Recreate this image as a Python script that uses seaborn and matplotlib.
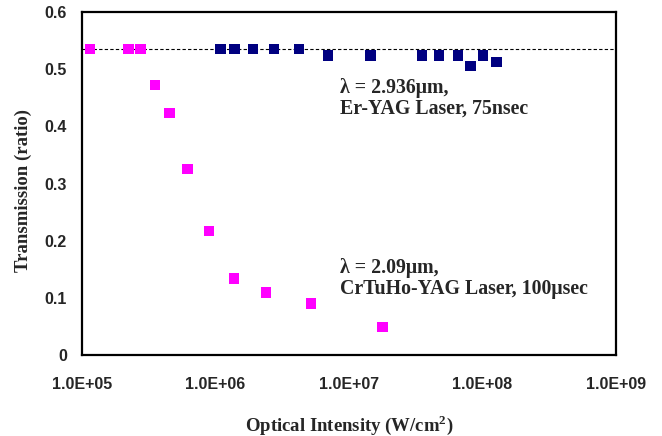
import numpy as np
import pandas as pd
import matplotlib
matplotlib.use("Agg")
import matplotlib.pyplot as plt
from matplotlib.ticker import FixedLocator, FuncFormatter, NullLocator
import seaborn as sns

# CrTuHo-YAG (2.09um) data
crtuho_intensity = [1.15e5, 2.23e5, 2.74e5, 3.52e5, 4.52e5, 6.17e5, 8.93e5,
                    1.37e6, 2.39e6, 5.21e6, 1.79e7]
crtuho_trans = [0.535, 0.535, 0.535, 0.473, 0.424, 0.325, 0.217,
                0.134, 0.109, 0.090, 0.049]

# Er-YAG (2.936um) data
eryag_intensity = [1.09e6, 1.39e6, 1.91e6, 2.75e6, 4.24e6, 7.0e6, 1.45e7,
                   3.55e7, 4.76e7, 6.61e7, 8.18e7, 1.01e8, 1.28e8]
eryag_trans = [0.535, 0.535, 0.535, 0.535, 0.535, 0.524, 0.524,
               0.524, 0.524, 0.524, 0.506, 0.524, 0.513]

ref_level = 0.535
x_ticks = [1e5, 1e6, 1e7, 1e8, 1e9]
y_ticks = [0, 0.1, 0.2, 0.3, 0.4, 0.5, 0.6]

sns.set_style("white")
plt.rcParams['font.family'] = ['Liberation Sans', 'DejaVu Sans']
plt.rcParams['mathtext.fontset'] = 'custom'
plt.rcParams['mathtext.rm'] = 'Liberation Serif'
plt.rcParams['mathtext.bf'] = 'Liberation Serif:bold'

df_cr = pd.DataFrame({'x': crtuho_intensity, 'y': crtuho_trans})
df_er = pd.DataFrame({'x': eryag_intensity, 'y': eryag_trans})

fig, ax = plt.subplots(figsize=(6.62, 4.36), dpi=100)
fig.subplots_adjust(left=0.124, right=0.930, bottom=0.186, top=0.972)

ax.set_xscale('log')
ax.axhline(ref_level, color='black', linestyle=(0, (3, 2)), linewidth=0.8, zorder=1)

sns.scatterplot(data=df_cr, x='x', y='y', ax=ax, marker='s', s=55,
                color='#FF00FF', edgecolor='none', zorder=3)
sns.scatterplot(data=df_er, x='x', y='y', ax=ax, marker='s', s=55,
                color='#000080', edgecolor='none', zorder=3)

ax.set_xlim(1e5, 1e9)
ax.set_ylim(0, 0.6)
ax.xaxis.set_major_locator(FixedLocator(x_ticks))
ax.xaxis.set_minor_locator(NullLocator())
ax.xaxis.set_major_formatter(FuncFormatter(lambda v, p: f"{v:.1E}"))
ax.yaxis.set_major_locator(FixedLocator(y_ticks))
ax.yaxis.set_major_formatter(FuncFormatter(lambda v, p: f"{v:g}"))

for sp in ax.spines.values():
    sp.set_visible(True)
    sp.set_color('black')
    sp.set_linewidth(1.6)

ax.tick_params(axis='both', direction='out', length=5, width=1, color='black',
               labelsize=11.5, pad=6)
for lbl in ax.get_xticklabels() + ax.get_yticklabels():
    lbl.set_fontweight('bold')
ax.tick_params(axis='x', pad=11)

serif = ['Liberation Serif', 'DejaVu Serif']
ax.set_xlabel('Optical Intensity (W/cm$^\\mathbf{2}$)', family=serif,
              fontweight='bold', fontsize=13.5, va='center')
ax.set_ylabel('Transmission (ratio)', family=serif, fontweight='bold',
              fontsize=13.5, va='center')
ax.xaxis.set_label_coords(0.5, -0.204)
ax.yaxis.set_label_coords(-0.110, 0.48)

ax.text(8.65e6, 0.449, 'λ = 2.936μm,\nEr-YAG Laser, 75nsec', family=serif,
        fontweight='bold', fontsize=14.3, va='center', ha='left', linespacing=1.05)
ax.text(8.65e6, 0.134, 'λ = 2.09μm,\nCrTuHo-YAG Laser, 100μsec', family=serif,
        fontweight='bold', fontsize=14.3, va='center', ha='left', linespacing=1.05)

fig.savefig('out.png', dpi=100)
